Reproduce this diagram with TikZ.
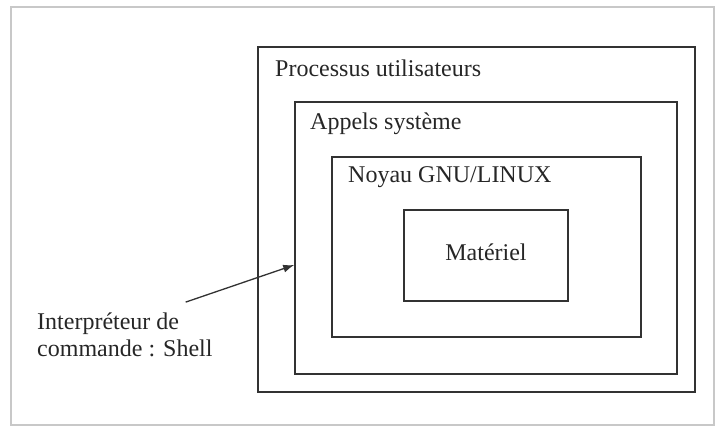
\documentclass[tikz,border=0pt]{standalone}
\usepackage{fontspec}
\setmainfont{Liberation Serif}
\usetikzlibrary{arrows.meta}
\definecolor{trait}{RGB}{50,50,50}
\definecolor{bord}{RGB}{200,200,200}
\tikzstyle{couche}=[rectangle, draw=trait, line width=1.6pt, inner sep=0pt]
\tikzstyle{titre}=[anchor=base west, inner sep=0pt, text=black!85]
\newcommand{\couche}{\node[couche]}
\newcommand{\titre}{\node[titre]}

\begin{document}
\begin{tikzpicture}[x=1pt, y=-1pt, font=\fontsize{24}{27}\selectfont]
\useasboundingbox (0,0) rectangle (715,427);
\draw[bord, line width=2pt] (11,7) rectangle (714,425);
\couche[minimum width=437pt, minimum height=345pt] (proc) at (476.5,219.5) {};
\couche[minimum width=382pt, minimum height=272pt] (appels) at (486,238) {};
\couche[minimum width=309pt, minimum height=180pt] (noyau) at (486.5,247) {};
\couche[minimum width=164pt, minimum height=91pt] (materiel) at (486,255.5) {};
\titre (procLbl) at (275,77) {Processus utilisateurs};
\titre (appelsLbl) at (310,130) {Appels système};
\titre (noyauLbl) at (348,183) {Noyau GNU/LINUX};
\node[titre, anchor=base] (materielLbl) at (486,261) {Matériel};
\node[titre, align=left] (shell) at (37,357) {Interpréteur de\\commande : Shell};
\draw[-{Latex[length=11pt,width=8pt]}, line width=1.3pt, draw=trait]
  ([shift={(-27pt,11pt)}]shell.north east) -- ([yshift=-27pt]appels.west);
\end{tikzpicture}
\end{document}
